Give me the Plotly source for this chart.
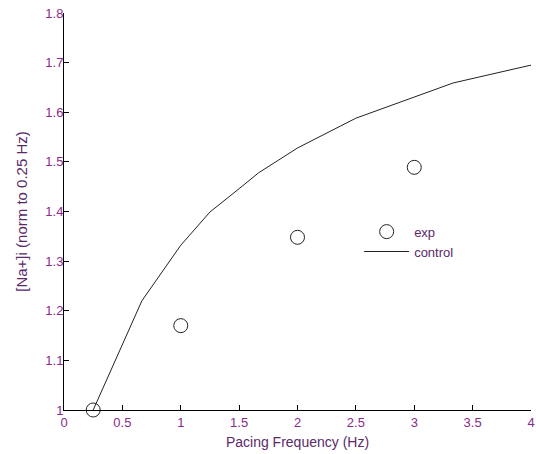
import plotly.graph_objects as go

# Data
exp_freq = [0.25, 1, 2, 3]
exp_na = [1.0, 1.17, 1.348, 1.489]

ctrl_freq = [0.25, 0.5, 0.667, 1, 1.25, 1.5, 1.667, 2, 2.5, 3.333, 4]
ctrl_na = [1.0, 1.134, 1.22, 1.332, 1.399, 1.446, 1.478, 1.528, 1.588, 1.659, 1.695]

x_ticks = [0, 0.5, 1, 1.5, 2, 2.5, 3, 3.5, 4]
x_tick_text = ["0", "0.5", "1", "1.5", "2", "2.5", "3", "3.5", "4"]
y_ticks = [1, 1.1, 1.2, 1.3, 1.4, 1.5, 1.6, 1.7, 1.8]
y_tick_text = ["1", "1.1", "1.2", "1.3", "1.4", "1.5", "1.6", "1.7", "1.8"]

tick_color = "#8a2a8a"
title_color = "#5a2a6a"
font_family = "Liberation Sans, Arial, sans-serif"

fig = go.Figure()
fig.add_trace(go.Scatter(
    x=exp_freq, y=exp_na, mode="markers", name="exp",
    marker=dict(symbol="circle-open", size=14, color="#222222", line=dict(width=1, color="#222222")),
    cliponaxis=False,
))
fig.add_trace(go.Scatter(
    x=ctrl_freq, y=ctrl_na, mode="lines", name="control",
    line=dict(color="#222222", width=1),
    cliponaxis=False,
))

fig.update_layout(
    width=536, height=454,
    margin=dict(l=64, r=5, t=13, b=44),
    paper_bgcolor="white", plot_bgcolor="white",
    font=dict(family=font_family, size=13, color=tick_color),
    showlegend=True,
    legend=dict(
        x=0.632, y=0.487, xanchor="left", yanchor="top",
        bgcolor="rgba(0,0,0,0)", borderwidth=0,
        font=dict(size=13, color=title_color),
        itemwidth=45, tracegroupgap=0,
    ),
    xaxis=dict(
        range=[0, 4], tickmode="array", tickvals=x_ticks, ticktext=x_tick_text,
        automargin=False,
        showgrid=False, zeroline=False, showline=True, linecolor="black", linewidth=1,
        ticks="inside", ticklen=5, tickcolor="black",
        tickfont=dict(size=13, color=tick_color),
        title=dict(text="Pacing Frequency (Hz)", font=dict(size=14, color=title_color), standoff=8),
    ),
    yaxis=dict(
        range=[1, 1.8], tickmode="array", tickvals=y_ticks, ticktext=y_tick_text,
        automargin=False, ticklabelstandoff=-3,
        showgrid=False, zeroline=False, showline=True, linecolor="black", linewidth=1,
        ticks="inside", ticklen=5, tickcolor="black",
        tickfont=dict(size=13, color=tick_color),
        title=dict(text="[Na+]i (norm to 0.25 Hz)", font=dict(size=15, color=title_color), standoff=14),
    ),
)

fig.write_html("out.html")
